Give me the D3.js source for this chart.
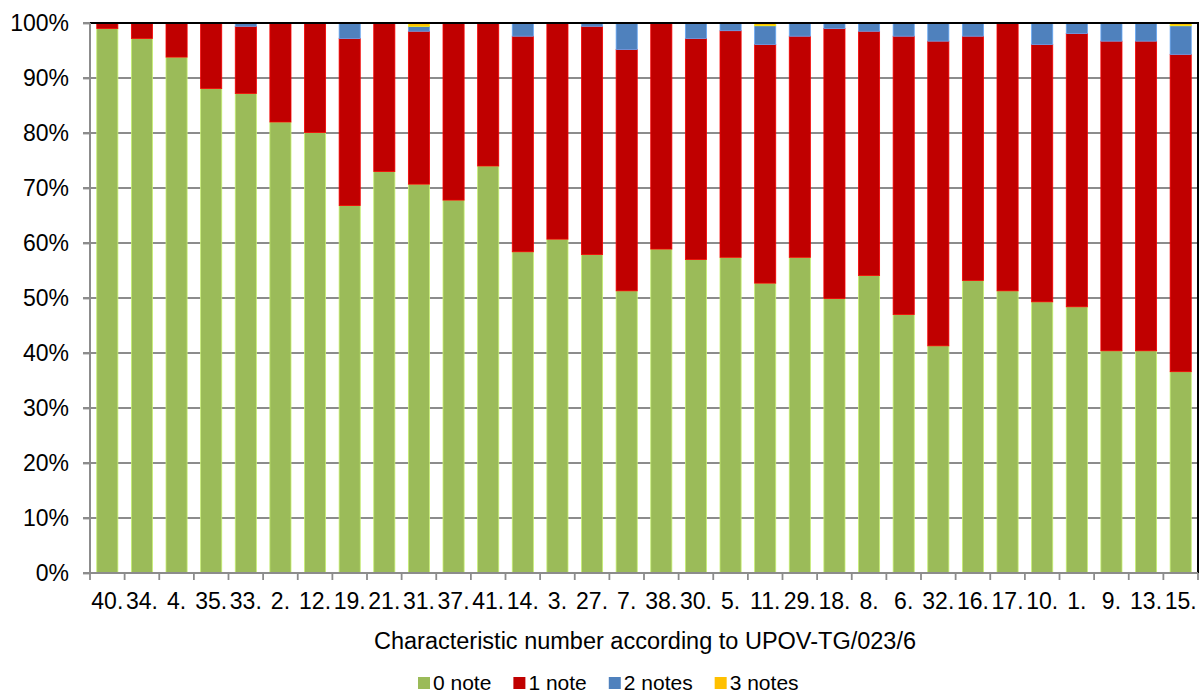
<!DOCTYPE html>
<html>
<head>
<meta charset="utf-8">
<script src="https://cdn.jsdelivr.net/npm/d3@7"></script>
<style>
  body { margin: 0; background: #fff; }
  svg { display: block; font-family: "Liberation Sans", Arial, sans-serif; }
</style>
</head>
<body>
<svg id="chart" width="1202" height="693"></svg>
<script>
// characteristic numbers, in the order shown on the axis
const categories = ["40.", "34.", "4.", "35.", "33.", "2.", "12.", "19.", "21.", "31.", "37.", "41.", "14.", "3.", "27.", "7.",
  "38.", "30.", "5.", "11.", "29.", "18.", "8.", "6.", "32.", "16.", "17.", "10.", "1.", "9.", "13.", "15."];

// share of varieties (%) per number of notes
const note0 = [99.0, 97.2, 93.8, 88.1, 87.2, 82.0, 80.1, 66.8, 73.0, 70.7, 67.8, 74.0, 58.4, 60.7, 57.9, 51.3,
  58.9, 57.0, 57.4, 52.7, 57.4, 49.9, 54.1, 47.0, 41.3, 53.2, 51.3, 49.3, 48.4, 40.4, 40.4, 36.6];
const note1 = [1.0, 2.8, 6.2, 11.9, 12.2, 18.0, 19.9, 30.4, 27.0, 27.8, 32.2, 26.0, 39.2, 39.3, 41.5, 43.9,
  41.1, 40.2, 41.2, 43.4, 40.2, 49.1, 44.4, 50.6, 55.4, 44.4, 48.7, 46.8, 49.7, 56.3, 56.3, 57.7];
const note2 = [0, 0, 0, 0, 0.6, 0, 0, 2.8, 0, 0.9, 0, 0, 2.4, 0, 0.6, 4.8,
  0, 2.8, 1.4, 3.4, 2.4, 1.0, 1.5, 2.4, 3.3, 2.4, 0, 3.9, 1.9, 3.3, 3.3, 5.2];
const note3 = [0, 0, 0, 0, 0, 0, 0, 0, 0, 0.6, 0, 0, 0, 0, 0, 0,
  0, 0, 0, 0.5, 0, 0, 0, 0, 0, 0, 0, 0, 0, 0, 0, 0.5];

const seriesNames = ["0 note", "1 note", "2 notes", "3 notes"];
const seriesColors = ["#9BBB59", "#C00000", "#4F81BD", "#FFC000"];
const yTickValues = [0, 10, 20, 30, 40, 50, 60, 70, 80, 90, 100];
const xTitle = "Characteristic number according to UPOV-TG/023/6";

const width = 1202, height = 693;
const margin = { top: 23, right: 4, bottom: 120, left: 90 };
const innerW = width - margin.left - margin.right;
const innerH = height - margin.top - margin.bottom;
const axisFont = 23;

const svg = d3.select("#chart");
const g = svg.append("g").attr("transform", `translate(${margin.left},${margin.top})`);

// table for the stack layout
const rows = categories.map((c, i) => ({
  cat: c,
  "0 note": note0[i], "1 note": note1[i], "2 notes": note2[i], "3 notes": note3[i]
}));

const stack = d3.stack().keys(seriesNames)
  .offset(d3.stackOffsetExpand);
const layers = stack(rows);

const x = d3.scaleBand()
  .domain(categories)
  .range([0, innerW])
  .paddingInner(0.39)
  .paddingOuter(0.195);

const y = d3.scaleLinear().domain([0, 1]).range([innerH, 0]);

const color = d3.scaleOrdinal().domain(seriesNames).range(seriesColors);

// gridlines
g.append("g").attr("class", "grid")
  .selectAll("line")
  .data(yTickValues)
  .join("line")
  .attr("x1", -7).attr("x2", innerW)
  .attr("y1", d => y(d / 100)).attr("y2", d => y(d / 100))
  .attr("stroke", "#8c8c8c")
  .attr("stroke-width", 1.8);

// bars
g.append("g").attr("class", "bars")
  .selectAll("g")
  .data(layers)
  .join("g")
  .attr("fill", d => color(d.key))
  .attr("stroke", d => d3.color(color(d.key)).brighter(0.7))
  .attr("stroke-width", 0.8)
  .selectAll("rect")
  .data(d => d.filter(s => s[1] - s[0] > 0))
  .join("rect")
  .attr("x", d => x(d.data.cat))
  .attr("width", x.bandwidth())
  .attr("y", d => y(d[1]))
  .attr("height", d => y(d[0]) - y(d[1]));

// frame: top and right in black
g.append("line")
  .attr("x1", 0).attr("x2", innerW + 1).attr("y1", 0).attr("y2", 0)
  .attr("stroke", "#000").attr("stroke-width", 2);
g.append("line")
  .attr("x1", innerW).attr("x2", innerW).attr("y1", 0).attr("y2", innerH)
  .attr("stroke", "#000").attr("stroke-width", 2);

// y axis
const yAxis = d3.axisLeft(y)
  .tickValues(yTickValues.map(v => v / 100))
  .tickFormat(d => Math.round(d * 100) + "%")
  .tickSize(7)
  .tickPadding(14);
const yg = g.append("g").call(yAxis);
yg.select(".domain").attr("stroke", "#8c8c8c").attr("stroke-width", 2).attr("d", `M0,0V${innerH}`);
yg.selectAll(".tick line").attr("stroke", "#8c8c8c").attr("stroke-width", 1.8);
yg.selectAll("text").attr("font-size", axisFont).attr("fill", "#000")
  .attr("font-family", "'Liberation Sans', Arial, sans-serif");

// x axis: ticks sit between the categories
const xg = g.append("g").attr("transform", `translate(0,${innerH})`);
xg.append("line")
  .attr("x1", 0).attr("x2", innerW)
  .attr("stroke", "#8c8c8c").attr("stroke-width", 2);
const step = x.step();
xg.selectAll(".xtick")
  .data(d3.range(categories.length + 1))
  .join("line")
  .attr("class", "xtick")
  .attr("x1", i => i * step).attr("x2", i => i * step)
  .attr("y1", 0).attr("y2", 7)
  .attr("stroke", "#8c8c8c").attr("stroke-width", 1.8);
xg.selectAll(".xlabel")
  .data(categories)
  .join("text")
  .attr("class", "xlabel")
  .attr("x", d => x(d) + x.bandwidth() / 2)
  .attr("y", 36)
  .attr("text-anchor", "middle")
  .attr("font-size", axisFont)
  .attr("fill", "#000")
  .text(d => d);

// axis title
svg.append("text")
  .attr("x", margin.left + innerW / 2 + 1)
  .attr("y", 649)
  .attr("text-anchor", "middle")
  .attr("font-size", 23.5)
  .attr("fill", "#000")
  .text(xTitle);

// legend
const legend = svg.append("g").attr("transform", "translate(418,677)");
let lx = 0;
seriesNames.forEach((name, i) => {
  const item = legend.append("g").attr("transform", `translate(${lx},0)`);
  item.append("rect")
    .attr("width", 12).attr("height", 12)
    .attr("fill", seriesColors[i]);
  const t = item.append("text")
    .attr("x", 15).attr("y", 13)
    .attr("font-size", 21)
    .attr("fill", "#000")
    .text(name);
  lx += 15 + t.node().getComputedTextLength() + 22;
});
</script>
</body>
</html>
